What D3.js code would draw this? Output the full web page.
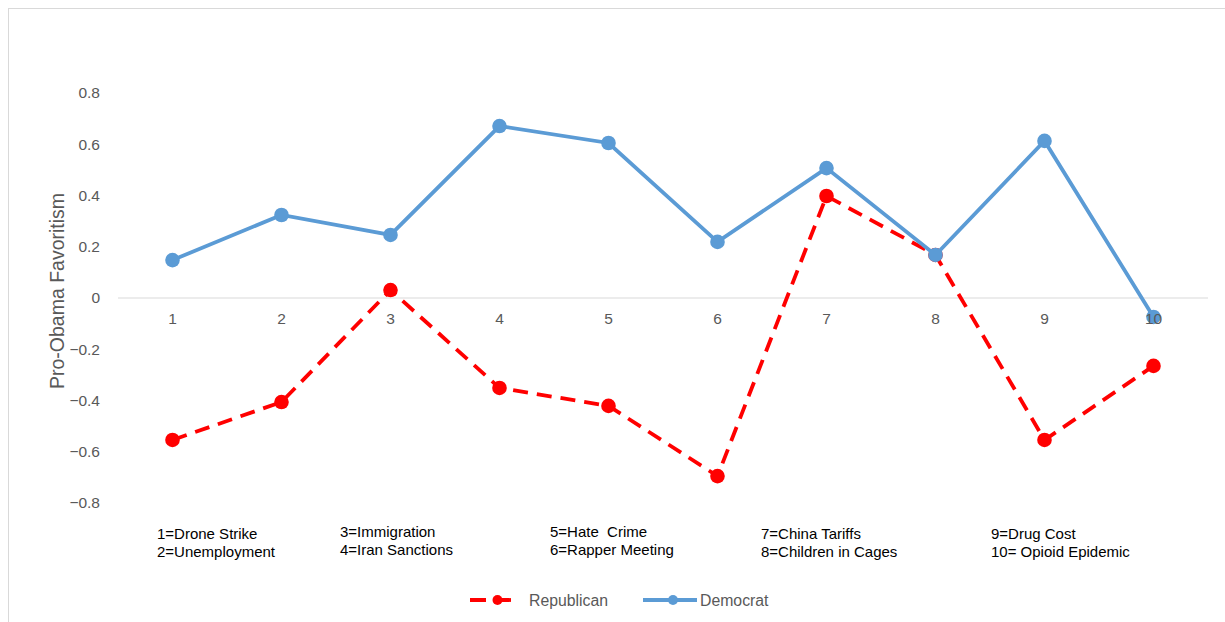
<!DOCTYPE html>
<html>
<head>
<meta charset="utf-8">
<script src="https://cdn.jsdelivr.net/npm/d3@7"></script>
<style>
  html, body { margin: 0; padding: 0; background: #fff; }
  svg { display: block; font-family: "Liberation Sans", Arial, sans-serif; }
  text { white-space: pre; }
</style>
</head>
<body>
<svg id="chart" width="1225" height="622"></svg>
<script>
// Issue numbers along the x axis
const issues = [1, 2, 3, 4, 5, 6, 7, 8, 9, 10];
// Pro-Obama favoritism by party
const republican = [-0.554, -0.406, 0.031, -0.351, -0.421, -0.695, 0.398, 0.168, -0.554, -0.265];
const democrat   = [0.148, 0.324, 0.246, 0.671, 0.605, 0.219, 0.507, 0.168, 0.613, -0.074];
// Y axis ticks
const yTicks = [-0.8, -0.6, -0.4, -0.2, 0, 0.2, 0.4, 0.6, 0.8];
// Issue key, shown in pairs under the plot
const issueKey = [
  ["1=Drone Strike", "2=Unemployment"],
  ["3=Immigration", "4=Iran Sanctions"],
  ["5=Hate  Crime", "6=Rapper Meeting"],
  ["7=China Tariffs", "8=Children in Cages"],
  ["9=Drug Cost", "10= Opioid Epidemic"]
];
const seriesNames = ["Republican", "Democrat"];

const svg = d3.select("#chart");
const W = 1225, H = 622;
const textGrey = "#595959";
const blue = "#5B9BD5", red = "#FF0000";
const FONT = "'Liberation Sans', Arial, sans-serif";

// Outer chart border
svg.append("rect")
  .attr("x", 8.5).attr("y", 8.5)
  .attr("width", W + 10).attr("height", H + 10)
  .attr("fill", "#fff").attr("stroke", "#d9d9d9").attr("stroke-width", 1);

const x = d3.scaleBand().domain(issues).range([118, 1208]);
const y = d3.scaleLinear().domain([-0.8, 0.8]).range([503, 93]);
const cx = d => x(d) + x.bandwidth() / 2;

// Y axis tick labels
const yAxis = d3.axisLeft(y).tickValues(yTicks).tickSize(0).tickPadding(0)
  .tickFormat(d => d === 0 ? "0" : d3.format(".1f")(d));
const yg = svg.append("g").attr("transform", "translate(100,0)").call(yAxis);
yg.select(".domain").remove();
yg.selectAll("text").attr("fill", textGrey).attr("font-size", 15.5)
  .attr("font-family", FONT);

// Zero line
svg.append("line")
  .attr("x1", 118).attr("x2", 1208)
  .attr("y1", y(0)).attr("y2", y(0))
  .attr("stroke", "#d9d9d9").attr("stroke-width", 1.2);

// Y axis title
svg.append("text")
  .attr("transform", `translate(64,${y(0) - 7}) rotate(-90)`)
  .attr("text-anchor", "middle")
  .attr("fill", textGrey).attr("font-size", 19.5)
  .text("Pro-Obama Favoritism");

const line = d3.line().x((d, i) => cx(issues[i])).y(d => y(d));

// Republican series (dashed)
svg.append("path").datum(republican)
  .attr("d", line).attr("fill", "none")
  .attr("stroke", red).attr("stroke-width", 3.8)
  .attr("stroke-dasharray", "15,9");
svg.append("g").selectAll("circle").data(republican).join("circle")
  .attr("cx", (d, i) => cx(issues[i])).attr("cy", d => y(d))
  .attr("r", 7.3).attr("fill", red);

// Democrat series
svg.append("path").datum(democrat)
  .attr("d", line).attr("fill", "none")
  .attr("stroke", blue).attr("stroke-width", 3.8);
svg.append("g").selectAll("circle").data(democrat).join("circle")
  .attr("cx", (d, i) => cx(issues[i])).attr("cy", d => y(d))
  .attr("r", 7.3).attr("fill", blue);

// X axis labels placed just under the zero line
const xAxis = d3.axisBottom(x).tickSize(0).tickPadding(0);
const xg = svg.append("g").attr("transform", `translate(0,${y(0) + 15})`).call(xAxis);
xg.select(".domain").remove();
xg.selectAll("text").attr("fill", textGrey).attr("font-size", 15.5)
  .attr("font-family", FONT);

// Issue key
const keyX = [157, 340, 550, 761, 991];
const keyY = [539, 537, 537, 539, 539];
issueKey.forEach((pair, k) => {
  pair.forEach((t, j) => {
    svg.append("text")
      .attr("x", keyX[k]).attr("y", keyY[k] + j * 17.5)
      .attr("fill", "#000").attr("font-size", 15)
      .text(t);
  });
});

// Legend
const legend = [
  { name: seriesNames[0], color: red, dash: "16,9", x0: 470, x1: 519, text: 529 },
  { name: seriesNames[1], color: blue, dash: null, x0: 643, x1: 697, text: 700 }
];
const ly = 600;
legend.forEach(l => {
  svg.append("line")
    .attr("x1", l.x0).attr("x2", l.x1).attr("y1", ly).attr("y2", ly)
    .attr("stroke", l.color).attr("stroke-width", 3.8)
    .attr("stroke-dasharray", l.dash);
  svg.append("circle")
    .attr("cx", (l.x0 + l.x1) / 2 + 3).attr("cy", ly).attr("r", 5)
    .attr("fill", l.color);
  svg.append("text")
    .attr("x", l.text).attr("y", ly + 5.5)
    .attr("fill", textGrey).attr("font-size", 15.8)
    .text(l.name);
});
</script>
</body>
</html>
